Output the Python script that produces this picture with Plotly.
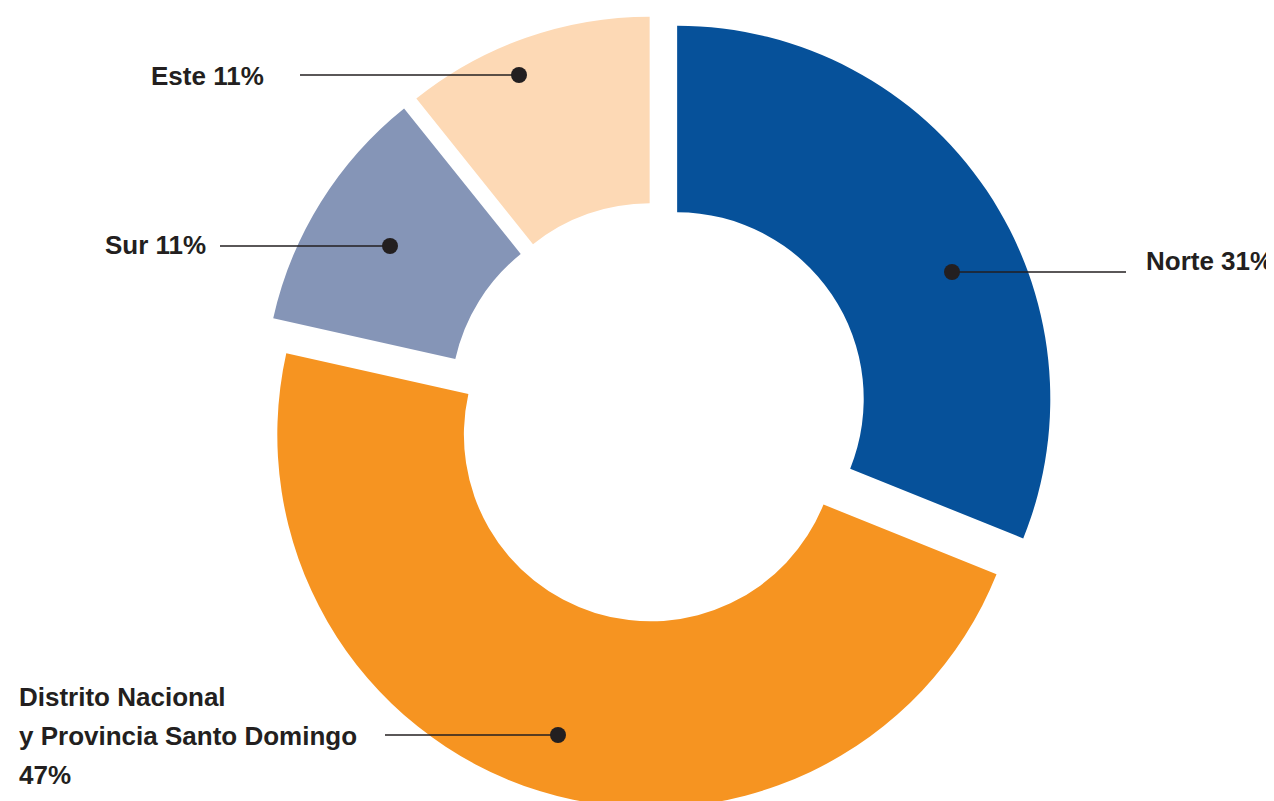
import plotly.graph_objects as go

# ---- data ----
labels = ["Norte", "Distrito Nacional y Provincia Santo Domingo", "Sur", "Este"]
values = [31.1, 47.4, 10.75, 10.75]
label_names = [["Norte"], ["Distrito Nacional", "y Provincia Santo Domingo"], ["Sur"], ["Este"]]
label_split = [False, True, False, False]  # percentage on its own line?
colors = ["#06519A", "#F69421", "#8595B7", "#FDD9B5"]

# ---- layout helpers ----
W, H = 1274, 801
PAGE = 8  # default page margin around the figure


def px(x):
    return (x - PAGE) / W


def py(y):
    return 1 - (y - PAGE) / H


# label placement (screen pixels): dot x, dot y, line end x, text x, text y, anchor
label_pos = [
    (952, 272, 1126, 1144, 261, "left"),
    (558, 735, 385, 17, 736, "left"),
    (390, 246, 220, 208, 245, "right"),
    (519, 75, 300, 266, 76, "right"),
]
LINE_GAP = 39  # pixels between lines of a multi-line label

ink = "#231F20"
font_family = "Liberation Sans, Arial, Helvetica, sans-serif"

total = sum(values)
label_lines = []
for names, v, split in zip(label_names, values, label_split):
    pct = "%d%%" % round(100 * v / total)
    if split:
        label_lines.append(names + [pct])
    else:
        label_lines.append(names[:-1] + [names[-1] + " " + pct])

cx, top = 657.5, 15.3
fig = go.Figure(
    go.Pie(
        labels=labels,
        values=values,
        sort=False,
        direction="clockwise",
        rotation=0,
        hole=0.5,
        pull=0.0635,
        marker=dict(colors=colors, line=dict(width=0)),
        textinfo="none",
        hoverinfo="label+percent",
        showlegend=False,
        domain=dict(x=[px(cx - 420), px(cx + 420)], y=[0, py(top)]),
    )
)

shapes = []
annotations = []
for (dx, dy, lx, tx, ty, anchor), lines in zip(label_pos, label_lines):
    shapes.append(dict(type="line", xref="paper", yref="paper",
                       x0=px(lx), y0=py(dy), x1=px(dx), y1=py(dy),
                       line=dict(color=ink, width=1.5)))
    r = 8
    shapes.append(dict(type="circle", xref="paper", yref="paper",
                       x0=px(dx - r), x1=px(dx + r), y0=py(dy + r), y1=py(dy - r),
                       fillcolor=ink, line=dict(width=0)))
    n = len(lines)
    for i, s in enumerate(lines):
        yy = ty + (i - (n - 1) / 2) * LINE_GAP
        annotations.append(dict(x=px(tx), y=py(yy), xref="paper", yref="paper",
                                text=s, showarrow=False, xanchor=anchor,
                                yanchor="middle", align="left",
                                font=dict(family=font_family, size=26, color=ink,
                                          weight="bold")))

fig.update_layout(
    width=W,
    height=H,
    margin=dict(l=0, r=0, t=0, b=0),
    paper_bgcolor="white",
    plot_bgcolor="white",
    shapes=shapes,
    annotations=annotations,
)

fig.write_html("out.html")
